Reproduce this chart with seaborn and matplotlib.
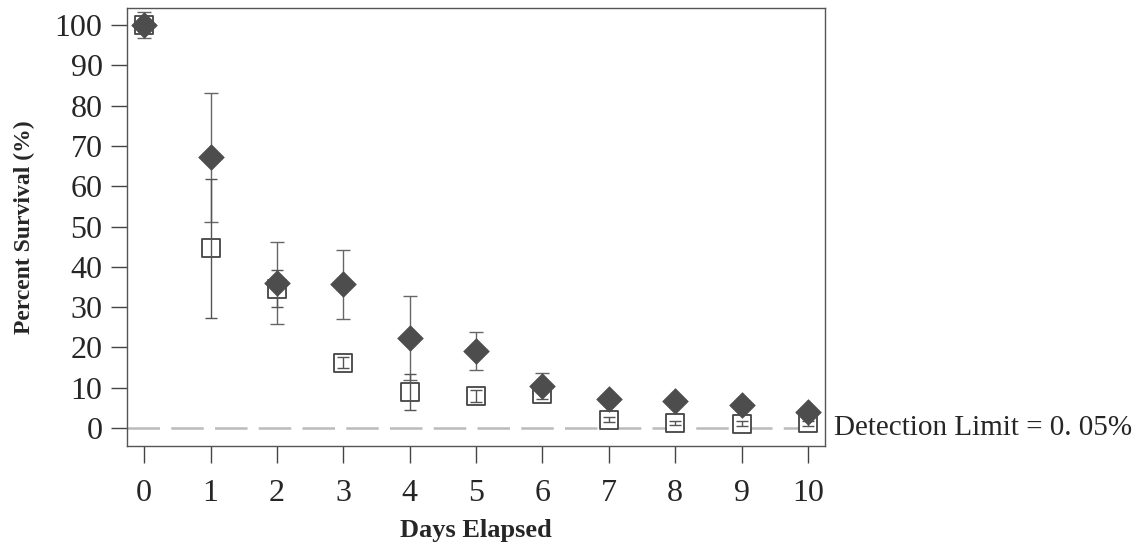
import matplotlib
matplotlib.use("Agg")
import matplotlib.pyplot as plt
import matplotlib.transforms as mtransforms
import seaborn as sns
import pandas as pd

# values
days = [0, 1, 2, 3, 4, 5, 6, 7, 8, 9, 10]
filled_mean = [100, 67.2, 36.0, 35.7, 22.3, 19.1, 10.4, 7.2, 6.8, 5.7, 3.9]
filled_err = [3.3, 16.0, 10.2, 8.6, 10.5, 4.7, 3.2, 0.0, 0.0, 0.0, 0.0]
open_mean = [100, 44.6, 34.6, 16.2, 8.9, 7.9, 8.3, 2.0, 1.3, 1.0, 1.1]
open_err = [1.5, 17.2, 4.5, 1.3, 4.4, 1.5, 1.0, 0.6, 0.5, 0.6, 0.5]

df_filled = pd.DataFrame({"day": days, "survival": filled_mean, "err": filled_err})
df_open = pd.DataFrame({"day": days, "survival": open_mean, "err": open_err})

sns.set_style("ticks")
plt.rcParams['font.family'] = ['Liberation Serif', 'DejaVu Serif']

fig = plt.figure(figsize=(11.43, 5.5), dpi=100)
ax = fig.add_axes([0.111, 0.189, 0.611, 0.796])

# detection limit line
ax.axhline(0, color="#bbbbbb", lw=1.8, dashes=(13, 4.5), zorder=1)

sns.scatterplot(data=df_open, x="day", y="survival", marker="s", s=150,
                facecolor="white", edgecolor="#444444", linewidth=1.3, ax=ax, zorder=3)
ax.errorbar(df_open["day"], df_open["survival"], yerr=df_open["err"], fmt="none",
            ecolor="#555555", elinewidth=1.0, capsize=4, capthick=1.0, zorder=4)

sns.scatterplot(data=df_filled, x="day", y="survival", marker="D", s=170,
                color="#4d4d4d", edgecolor="#4d4d4d", linewidth=0.5, ax=ax, zorder=5)
ax.errorbar(df_filled["day"], df_filled["survival"], yerr=df_filled["err"], fmt="none",
            ecolor="#666666", elinewidth=1.0, capsize=5, capthick=1.0, zorder=2)

ax.set_xlim(-0.26, 10.26)
ax.set_ylim(-4.5, 104.2)
ax.set_xticks(days)
ax.set_yticks(range(0, 101, 10))
ax.tick_params(axis="both", labelsize=23, length=11.5, width=1, color="#444444", pad=6)
ax.tick_params(axis="x", length=12, pad=12)

for sp in ax.spines.values():
    sp.set_visible(True)
    sp.set_color("#555555")
    sp.set_linewidth(1.0)

ax.set_xlabel("Days Elapsed", fontsize=19, fontweight="bold", labelpad=8)
ax.set_ylabel("Percent Survival (%)", fontsize=17, fontweight="bold", labelpad=14)

trans = mtransforms.blended_transform_factory(ax.transAxes, ax.transData)
ax.text(1.012, 0, "Detection Limit = 0. 05%", transform=trans, fontsize=21,
        va="center", ha="left")

fig.savefig("out.png", dpi=100)
